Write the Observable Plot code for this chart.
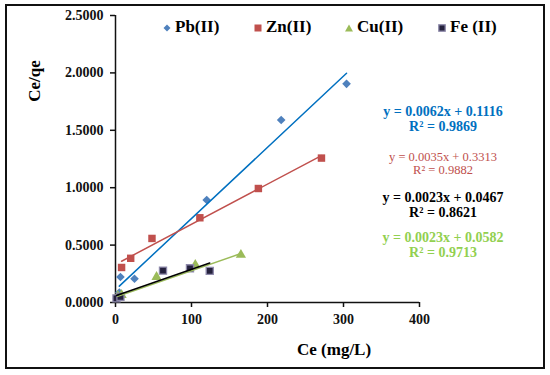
<!DOCTYPE html>
<html>
<head>
<meta charset="utf-8">
<script src="https://cdn.jsdelivr.net/npm/d3@7"></script>
<script src="https://cdn.jsdelivr.net/npm/@observablehq/plot@0.6"></script>
<style>
  html, body { margin: 0; padding: 0; background: #fff; }
  #wrap { position: relative; width: 550px; height: 375px; overflow: hidden; font-family: "Liberation Serif", "Times New Roman", serif; }
  #frame { position: absolute; left: 5px; top: 4px; width: 536px; height: 361px; border: 2px solid #111; pointer-events: none; }
  .ov { position: absolute; font-weight: bold; white-space: nowrap; }
  .eq { position: absolute; text-align: center; transform: translateX(-50%); white-space: nowrap; }
  .leg { position: absolute; top: 17px; font-size: 17px; font-weight: bold; white-space: nowrap; }
  .leg svg { position: absolute; left: -12px; top: 7px; }
</style>
</head>
<body>
<div id="wrap"></div>
<script>
// ---- data ----
const series = ["Pb(II)", "Zn(II)", "Cu(II)", "Fe (II)"];
const pbX = [5, 6.5, 25, 120, 218, 304];
const pbY = [0.087, 0.222, 0.207, 0.893, 1.59, 1.905];
const znX = [8, 20, 48, 111, 188, 271];
const znY = [0.305, 0.385, 0.558, 0.738, 0.993, 1.258];
const cuX = [3, 8, 54, 105, 165];
const cuY = [0.058, 0.066, 0.222, 0.328, 0.415];
const feX = [1.3, 6.5, 62.5, 98, 124];
const feY = [0.036, 0.05, 0.278, 0.298, 0.275];
const slopes = [0.0062, 0.0035, 0.0023, 0.0023];
const intercepts = [0.1116, 0.3313, 0.0467, 0.0582];
const r2 = [0.9869, 0.9882, 0.8621, 0.9713];
const xTicks = [0, 100, 200, 300, 400];
const yTicks = [0, 0.5, 1.0, 1.5, 2.0, 2.5];

// ---- styling ----
const markerFill = ["#4F81BD", "#C0504D", "#9BBB59", "#25213d"];
const lineColor = ["#0070C0", "#C0504D", "#9BBB59", "#000000"];
const symbols = ["diamond2", "square", "triangle", "square"];
const sizes = [3.9, 4.2, 3.8, 4.0];

const xs = [pbX, znX, cuX, feX];
const ys = [pbY, znY, cuY, feY];
const points = series.flatMap((s, i) => xs[i].map((x, j) => ({s, i, x, y: ys[i][j]})));
const trends = series.flatMap((s, i) => {
  const lo = d3.min(xs[i]), hi = d3.max(xs[i]);
  return [lo, hi].map(x => ({s, i, x, y: slopes[i] * x + intercepts[i]}));
});

const font = {fontFamily: "Liberation Serif", fontWeight: "bold", fontSize: 14};

const chart = Plot.plot({
  width: 550,
  height: 375,
  marginLeft: 115,
  marginRight: 131,
  marginTop: 15,
  marginBottom: 73,
  style: {background: "white", color: "#111", overflow: "visible"},
  x: {domain: [0, 400]},
  y: {domain: [0, 2.5]},
  marks: [
    Plot.axisX({ticks: xTicks, tickSize: 5, tickPadding: 7, tickFormat: d => String(d), label: null, strokeWidth: 1.5, ...font}),
    Plot.axisY({ticks: yTicks, tickSize: 5, tickPadding: 7, tickFormat: d3.format(".4f"), label: null, strokeWidth: 1.5, ...font}),
    Plot.ruleY([0], {stroke: "#111", strokeWidth: 1.5}),
    Plot.ruleX([0], {stroke: "#111", strokeWidth: 1.5}),
    ...[0, 1, 2, 3].map(i => Plot.dot(points.filter(d => d.i === i), {
      x: "x", y: "y", symbol: symbols[i], r: sizes[i],
      fill: markerFill[i], stroke: i === 3 ? "#8d89aa" : "none", strokeWidth: i === 3 ? 1.3 : 0
    })),
    ...[0, 1, 2, 3].map(i => Plot.line(trends.filter(d => d.i === i), {
      x: "x", y: "y", stroke: lineColor[i], strokeWidth: 1.5
    }))
  ]
});

const wrap = document.getElementById("wrap");
chart.style.position = "absolute";
chart.style.left = "0px";
chart.style.top = "0px";
wrap.appendChild(chart);

// axis titles
const xt = document.createElement("div");
xt.className = "ov";
xt.textContent = "Ce (mg/L)";
xt.style.cssText += "left:297px;top:340px;font-size:17px;";
wrap.appendChild(xt);

const yt = document.createElement("div");
yt.className = "ov";
yt.textContent = "Ce/qe";
yt.style.cssText += "left:35px;top:81px;font-size:17px;transform:translate(-50%,-50%) rotate(-90deg);";
wrap.appendChild(yt);

// legend
const legLeft = [175, 266, 357, 450];
const legShape = [
  '<polygon points="4,0.5 7.5,4 4,7.5 0.5,4" fill="#4F81BD"/>',
  '<rect x="0.5" y="0.5" width="7" height="7" fill="#C0504D"/>',
  '<polygon points="4,0.5 8,7.5 0,7.5" fill="#9BBB59"/>',
  '<rect x="0.8" y="0.8" width="6.4" height="6.4" fill="#25213d" stroke="#8d89aa" stroke-width="1.3"/>'
];
series.forEach((s, i) => {
  const d = document.createElement("div");
  d.className = "leg";
  d.style.left = legLeft[i] + "px";
  d.innerHTML = '<svg width="8" height="8" viewBox="0 0 8 8">' + legShape[i] + '</svg>' + s;
  wrap.appendChild(d);
});

// equations
const eqColor = ["#0070C0", "#C0504D", "#000000", "#92D050"];
const eqOrder = [0, 1, 2, 3];
const eqTop = [104, 151, 190, 230];
const eqSize = [14, 12.5, 14, 14];
const eqWeight = ["bold", "normal", "bold", "bold"];
const eqLine = [15, 13, 15, 15];
eqOrder.forEach((i, k) => {
  const d = document.createElement("div");
  d.className = "eq";
  d.style.left = "443px";
  d.style.top = eqTop[k] + "px";
  d.style.color = eqColor[k];
  d.style.fontSize = eqSize[k] + "px";
  d.style.fontWeight = eqWeight[k];
  d.style.lineHeight = eqLine[k] + "px";
  d.innerHTML = "y = " + slopes[i].toFixed(4) + "x + " + intercepts[i].toFixed(4) + "<br>R² = " + r2[i].toFixed(4);
  wrap.appendChild(d);
});

const fr = document.createElement("div");
fr.id = "frame";
wrap.appendChild(fr);
</script>
</body>
</html>
